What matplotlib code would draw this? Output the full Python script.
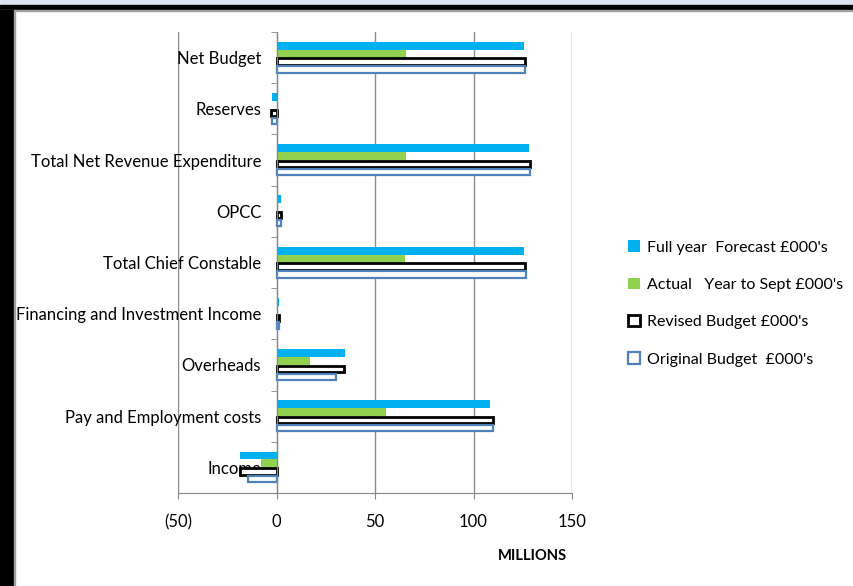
import matplotlib
matplotlib.use("Agg")
import matplotlib.pyplot as plt
import numpy as np
from matplotlib.patches import Rectangle
from matplotlib.ticker import FuncFormatter, FixedLocator

plt.rcParams['font.family'] = ['Lato', 'DejaVu Sans']

categories = ["Income", "Pay and Employment costs", "Overheads",
              "Financing and Investment Income", "Total Chief Constable", "OPCC",
              "Total Net Revenue Expenditure", "Reserves", "Net Budget"]
forecast = [-18.3, 108.6, 34.7, 1.3, 125.5, 2.5, 128.4, -2.2, 125.5]
actual = [-8.1, 55.7, 16.9, 0.3, 65.1, 0.0, 65.8, 0.0, 65.8]
revised = [-18.6, 109.8, 34.2, 1.5, 126.0, 2.5, 128.7, -2.7, 126.0]
original = [-14.4, 109.8, 30.3, 1.2, 126.7, 2.5, 128.5, -2.2, 126.0]
labels = ["Full year  Forecast £000's", "Actual   Year to Sept £000's",
          "Revised Budget £000's", "Original Budget  £000's"]
xticks = [-50, 0, 50, 100, 150]

fig = plt.figure(figsize=(8.54, 5.86), dpi=100)
fig.patch.set_facecolor('white')
W, H = 854, 586
# frame decorations
fig.patches.append(Rectangle((0, 1 - 5 / H), 1, 5 / H, transform=fig.transFigure, color='#dde6f0', zorder=0))
fig.patches.append(Rectangle((0, 1 - 10 / H), 1, 5 / H, transform=fig.transFigure, color='black', zorder=0))
fig.patches.append(Rectangle((0, 1 - 11 / H), 1, 1.5 / H, transform=fig.transFigure, color='#a0a0a0', zorder=0))
fig.patches.append(Rectangle((0, 0), 14 / W, 1 - 10 / H, transform=fig.transFigure, color='black', zorder=0))
fig.patches.append(Rectangle((14 / W, 0), 1.5 / W, 1 - 10 / H, transform=fig.transFigure, color='#a0a0a0', zorder=0))

ax = fig.add_axes([178 / W, 1 - 493 / H, (572 - 178) / W, (493 - 32) / H])
y = np.arange(len(categories))
h = 0.155
ax.barh(y + 1.5 * h, forecast, height=h, color='#00B0F0', label=labels[0], zorder=3)
ax.barh(y + 0.5 * h, actual, height=h, color='#92D050', label=labels[1], zorder=3)
ax.barh(y - 0.5 * h, revised, height=h * 0.8, color='white', edgecolor='black', linewidth=2.0, label=labels[2], zorder=3)
ax.barh(y - 1.5 * h, original, height=h * 0.8, color='white', edgecolor='#4F81BD', linewidth=1.6, label=labels[3], zorder=3)

ax.set_xlim(-50, 150)
ax.set_ylim(-0.5, len(categories) - 0.5)
ax.set_xticks(xticks)
ax.xaxis.set_major_formatter(FuncFormatter(lambda v, p: f"({abs(int(v))})" if v < 0 else f"{int(v)}"))
ax.grid(axis='x', color='#8c8c8c', linewidth=1.0, zorder=0)
ax.set_axisbelow(True)

for s in ['top', 'right']:
    ax.spines[s].set_visible(False)
ax.spines['left'].set_position(('data', 0))
ax.spines['left'].set_color('#868686')
ax.spines['left'].set_zorder(4)
ax.spines['bottom'].set_color('#868686')

ax.set_yticks(y)
ax.set_yticklabels(categories)
ax.yaxis.set_minor_locator(FixedLocator(np.arange(-0.5, len(categories), 1.0)))
ax.tick_params(axis='y', which='major', length=0, pad=11, labelsize=12, colors='black')
ax.tick_params(axis='y', which='minor', length=4, color='#868686')
ax.tick_params(axis='x', which='major', length=4, color='#868686', pad=11, labelsize=12)
for t in ax.get_yticklabels():
    t.set_zorder(5)

fig.text(532 / W, 1 - 556 / H, "MILLIONS", ha='center', va='center', fontsize=10.6, fontweight='bold')

leg = fig.legend(loc='upper left', bbox_to_anchor=(614 / W, 1 - 226 / H), frameon=False,
                 fontsize=11.5, handlelength=0.7, handleheight=0.7, handletextpad=0.45,
                 labelspacing=1.45)

fig.savefig("out.png", dpi=100)
